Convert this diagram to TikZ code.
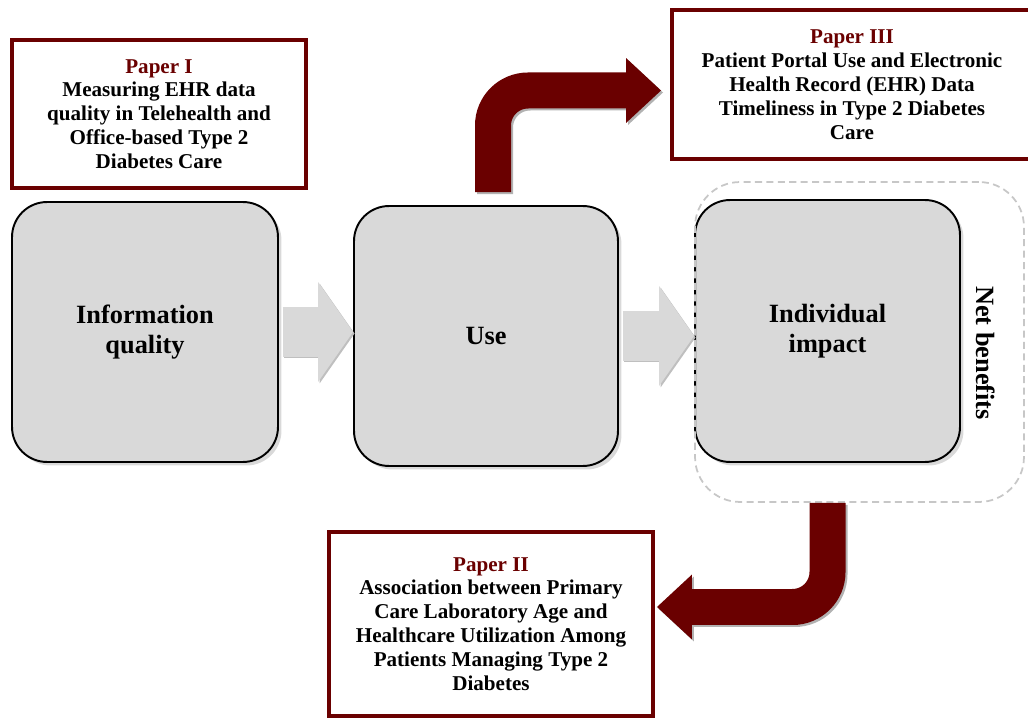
\documentclass[tikz,border=0pt]{standalone}
\usepackage{fontspec}
\setmainfont{Liberation Serif}
\usetikzlibrary{positioning}
\usetikzlibrary{arrows.meta}
\usetikzlibrary{shadows}
\definecolor{paperred}{HTML}{6A0000}
\definecolor{boxgray}{HTML}{D9D9D9}
\tikzset{
boxP/.style={rectangle,draw=paperred,line width=2.3pt,fill=white,align=center,inner sep=0pt,font=\bfseries\fontsize{12}{13.6}\selectfont}
}
\tikzset{
boxG/.style={rectangle,rounded corners=0.7cm,draw=black,line width=1.1pt,fill=boxgray,align=center,font=\bfseries\fontsize{15}{17}\selectfont,drop shadow={shadow xshift=2pt,shadow yshift=-2pt,opacity=0.3}}
}
\tikzset{
boxN/.style={rectangle,rounded corners=0.9cm,draw=black!22,line width=1pt,dash pattern=on 4pt off 2.5pt}
}
\tikzset{
flowA/.style={draw=boxgray,line width=1cm,-{Triangle[length=0.7cm,width=2cm,line width=0pt]}},
flowS/.style={flowA,draw=black!25,transform canvas={shift={(0.03cm,-0.03cm)}}}
}
\tikzset{
bentA/.style={draw=paperred,line width=0.72cm,rounded corners=0.7cm,-{Triangle[length=0.7cm,width=1.3cm,line width=0pt]}},
bentS/.style={bentA,draw=black!30,transform canvas={shift={(0.04cm,-0.04cm)}}}
}

\begin{document}
\begin{tikzpicture}[x=0.02cm,y=-0.02cm]
\useasboundingbox (0,0) rectangle (1028,719);

\node[boxG,minimum width=5.32cm,minimum height=5.2cm] (iq) at (145,332) {Information\\quality};
\node[boxG,minimum width=5.28cm,minimum height=5.2cm] (use) at (486,336) {Use};
\node[boxG,minimum width=5.3cm,minimum height=5.24cm] (impact) at (827.5,331) {Individual\\impact};
%------------------------------------------------------------------------------------------------------------%
\node[boxN,minimum width=6.58cm,minimum height=6.4cm] (net) at (859.5,342) {};
\node[rotate=-90,font=\bfseries\fontsize{15}{17}\selectfont] (netlbl) at (986,353) {Net benefits};
%------------------------------------------------------------------------------------------------------------%
\draw[flowS] ([xshift=0.08cm]iq.east) -- (iq.east -| use.west);
\draw[flowA] ([xshift=0.08cm]iq.east) -- (iq.east -| use.west);
\draw[flowS] ([xshift=0.08cm]use.east) -- (use.east -| impact.west);
\draw[flowA] ([xshift=0.08cm]use.east) -- (use.east -| impact.west);
%------------------------------------------------------------------------------------------------------------%
\node[boxP,minimum width=5.88cm,minimum height=2.96cm] (p1) at (159,114) {\textcolor{paperred}{Paper I}\\Measuring EHR data\\quality in Telehealth and\\Office-based Type 2\\Diabetes Care};
\node[boxP,minimum width=7.2cm,minimum height=2.98cm] (p3) at (852,84.5) {\textcolor{paperred}{Paper III}\\Patient Portal Use and Electronic\\Health Record (EHR) Data\\Timeliness in Type 2 Diabetes\\Care};
\node[boxP,minimum width=6.48cm,minimum height=3.68cm] (p2) at (491,624) {\textcolor{paperred}{Paper II}\\Association between Primary\\Care Laboratory Age and\\Healthcare Utilization Among\\Patients Managing Type 2\\Diabetes};
%------------------------------------------------------------------------------------------------------------%
\draw[bentS] ([shift={(7,-13)}]use.north) |- ([shift={(-9,6)}]p3.west);
\draw[bentA] ([shift={(7,-13)}]use.north) |- ([shift={(-9,6)}]p3.west);
\draw[bentS] (net.south -| impact.south) |- ([shift={(2,-17)}]p2.east);
\draw[bentA] (net.south -| impact.south) |- ([shift={(2,-17)}]p2.east);

\end{tikzpicture}
\end{document}
